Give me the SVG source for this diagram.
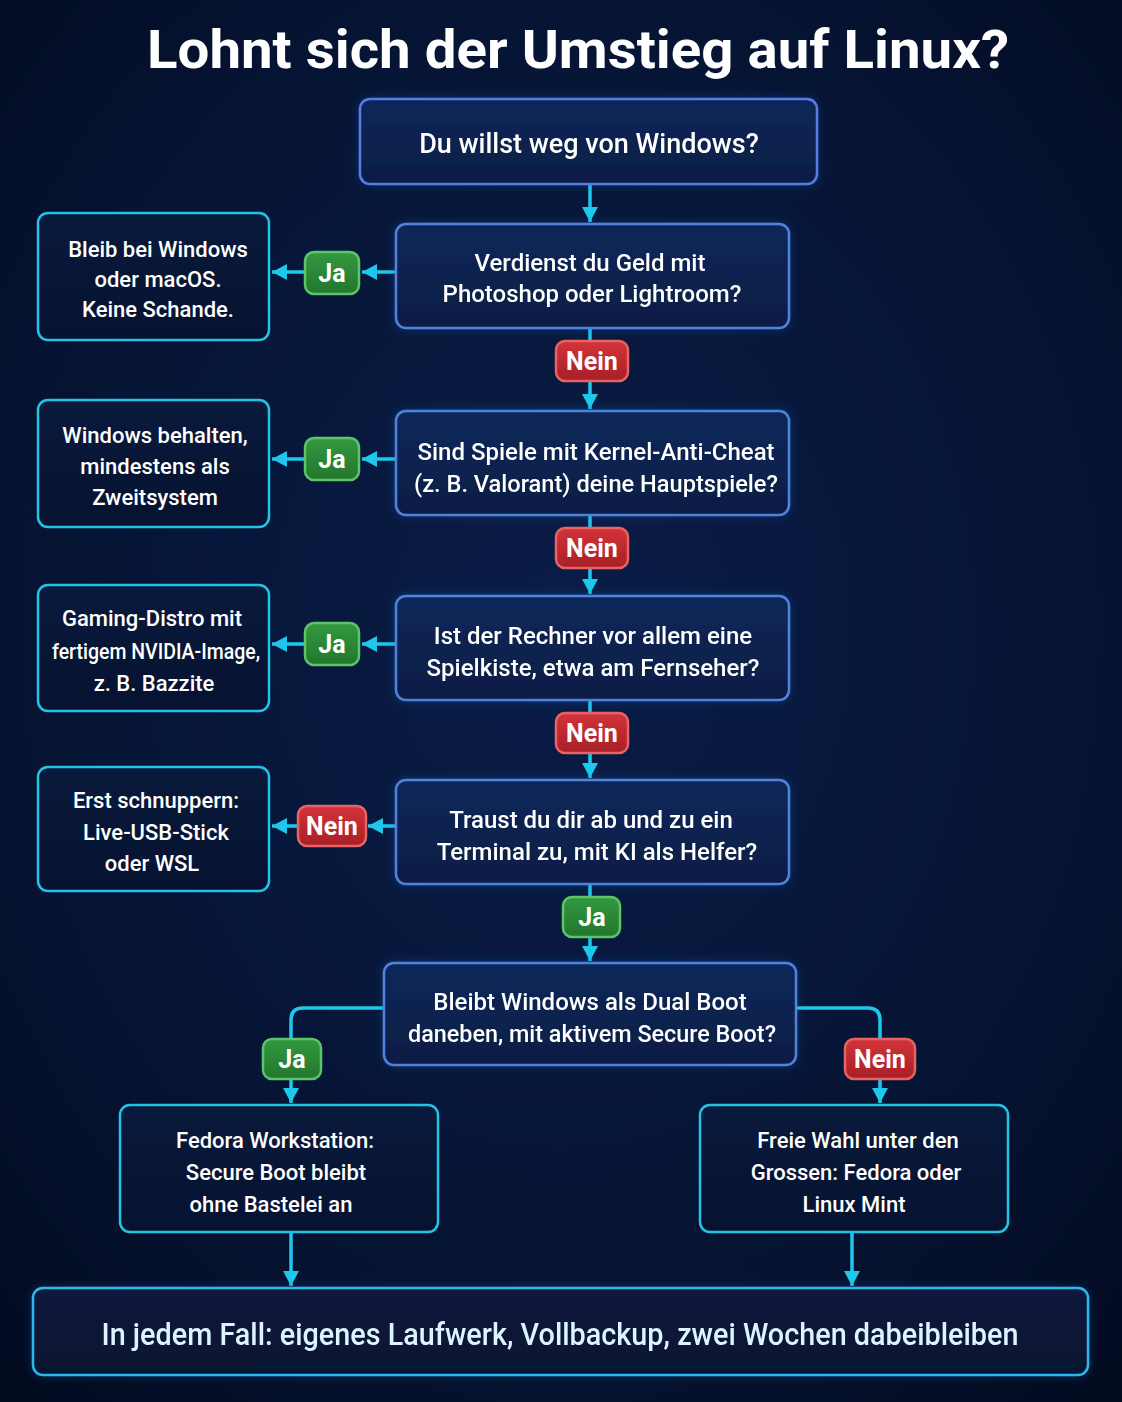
<svg xmlns="http://www.w3.org/2000/svg" width="1122" height="1402" viewBox="0 0 1122 1402">
  <defs>
    <radialGradient id="bg" cx="0.5" cy="0.45" r="0.75">
      <stop offset="0" stop-color="#0a1d48"/>
      <stop offset="0.6" stop-color="#061434"/>
      <stop offset="1" stop-color="#020a1e"/>
    </radialGradient>
    <linearGradient id="qfill" x1="0" y1="0" x2="0" y2="1">
      <stop offset="0" stop-color="#10285a"/>
      <stop offset="1" stop-color="#0b1d44"/>
    </linearGradient>
    <linearGradient id="lfill" x1="0" y1="0" x2="0" y2="1">
      <stop offset="0" stop-color="#0a1a3c"/>
      <stop offset="1" stop-color="#061230"/>
    </linearGradient>
    <linearGradient id="gfill" x1="0" y1="0" x2="0" y2="1">
      <stop offset="0" stop-color="#34983f"/>
      <stop offset="1" stop-color="#22772e"/>
    </linearGradient>
    <linearGradient id="rfill" x1="0" y1="0" x2="0" y2="1">
      <stop offset="0" stop-color="#d2343a"/>
      <stop offset="1" stop-color="#a81f26"/>
    </linearGradient>
    <filter id="glow" x="-10%" y="-20%" width="120%" height="140%">
      <feGaussianBlur in="SourceAlpha" stdDeviation="4" result="b"/>
      <feFlood flood-color="#1e6fd0" flood-opacity="0.35"/>
      <feComposite in2="b" operator="in"/>
      <feMerge><feMergeNode/><feMergeNode in="SourceGraphic"/></feMerge>
    </filter>
    <marker id="ah" markerUnits="userSpaceOnUse" markerWidth="20" markerHeight="20" viewBox="0 0 20 20" refX="18" refY="10" orient="auto">
      <path d="M3,2 L18,10 L3,18 Z" fill="#1ec8ec"/>
    </marker>
  </defs>
  <style>
    .q { fill: url(#qfill); stroke: #4f82dc; stroke-width: 2.5; }
    .l { fill: url(#lfill); stroke: #22c4e6; stroke-width: 2.5; }
    .t { font-family: Roboto, "Liberation Sans", sans-serif; font-weight: 500; fill: #ffffff; text-anchor: middle; }
    .qt { font-size: 24px; }
    .lt { font-size: 22px; }
    .c { fill: none; stroke: #1ec8ec; stroke-width: 3.5; }
    .ja { fill: url(#gfill); stroke: #5cc46a; stroke-width: 2.5; }
    .nein { fill: url(#rfill); stroke: #e86464; stroke-width: 2.5; }
    .pt { font-family: Roboto, "Liberation Sans", sans-serif; font-weight: 700; font-size: 25px; fill: #ffffff; text-anchor: middle; }
  </style>
  <rect x="0" y="0" width="1122" height="1402" fill="url(#bg)"/>
  <text x="578" y="68" class="t" style="font-size:54px;font-weight:700" textLength="862" lengthAdjust="spacingAndGlyphs">Lohnt sich der Umstieg auf Linux?</text>

  <g id="connectors">
    <line class="c" x1="590" y1="184" x2="590" y2="222" marker-end="url(#ah)"/>
    <line class="c" x1="396" y1="272" x2="362" y2="272" marker-end="url(#ah)"/>
    <line class="c" x1="305" y1="272" x2="272" y2="272" marker-end="url(#ah)"/>
    <line class="c" x1="590" y1="328" x2="590" y2="409" marker-end="url(#ah)"/>
    <line class="c" x1="396" y1="459" x2="362" y2="459" marker-end="url(#ah)"/>
    <line class="c" x1="305" y1="459" x2="272" y2="459" marker-end="url(#ah)"/>
    <line class="c" x1="590" y1="515" x2="590" y2="594" marker-end="url(#ah)"/>
    <line class="c" x1="396" y1="644" x2="362" y2="644" marker-end="url(#ah)"/>
    <line class="c" x1="305" y1="644" x2="272" y2="644" marker-end="url(#ah)"/>
    <line class="c" x1="590" y1="700" x2="590" y2="778" marker-end="url(#ah)"/>
    <line class="c" x1="396" y1="826" x2="368" y2="826" marker-end="url(#ah)"/>
    <line class="c" x1="298" y1="826" x2="272" y2="826" marker-end="url(#ah)"/>
    <line class="c" x1="590" y1="884" x2="590" y2="961" marker-end="url(#ah)"/>
    <path class="c" d="M384,1008 H303 Q291,1008 291,1020 V1103" marker-end="url(#ah)"/>
    <path class="c" d="M796,1008 H868 Q880,1008 880,1020 V1103" marker-end="url(#ah)"/>
    <line class="c" x1="291" y1="1232" x2="291" y2="1286" marker-end="url(#ah)"/>
    <line class="c" x1="852" y1="1232" x2="852" y2="1286" marker-end="url(#ah)"/>
  </g>

  <g id="labels">
    <rect class="ja" x="305" y="252" width="54" height="42" rx="9"/>
    <text class="pt" x="332" y="282">Ja</text>
    <rect class="nein" x="556" y="341" width="72" height="40" rx="9"/>
    <text class="pt" x="592" y="370">Nein</text>
    <rect class="ja" x="305" y="438" width="54" height="42" rx="9"/>
    <text class="pt" x="332" y="468">Ja</text>
    <rect class="nein" x="556" y="528" width="72" height="40" rx="9"/>
    <text class="pt" x="592" y="557">Nein</text>
    <rect class="ja" x="305" y="623" width="54" height="42" rx="9"/>
    <text class="pt" x="332" y="653">Ja</text>
    <rect class="nein" x="556" y="713" width="72" height="40" rx="9"/>
    <text class="pt" x="592" y="742">Nein</text>
    <rect class="nein" x="298" y="806" width="68" height="40" rx="9"/>
    <text class="pt" x="332" y="835">Nein</text>
    <rect class="ja" x="563" y="897" width="57" height="40" rx="9"/>
    <text class="pt" x="592" y="926">Ja</text>
    <rect class="ja" x="263" y="1039" width="58" height="40" rx="9"/>
    <text class="pt" x="292" y="1068">Ja</text>
    <rect class="nein" x="845" y="1039" width="70" height="40" rx="9"/>
    <text class="pt" x="880" y="1068">Nein</text>
  </g>

  <g id="n1" filter="url(#glow)">
    <rect class="q" x="360" y="99" width="457" height="85" rx="10" style="stroke:#5b7ae6"/>
    <text class="t" x="589" y="153" style="font-size:27px">Du willst weg von Windows?</text>
  </g>
  <g id="n2" filter="url(#glow)">
    <rect class="q" x="396" y="224" width="393" height="104" rx="10"/>
    <text class="t qt" x="590" y="271">Verdienst du Geld mit</text>
    <text class="t qt" x="592" y="302">Photoshop oder Lightroom?</text>
  </g>
  <g id="leaf1">
    <rect class="l" x="38" y="213" width="231" height="127" rx="10"/>
    <text class="t lt" x="158" y="257">Bleib bei Windows</text>
    <text class="t lt" x="158" y="287">oder macOS.</text>
    <text class="t lt" x="158" y="317">Keine Schande.</text>
  </g>
  <g id="n3" filter="url(#glow)">
    <rect class="q" x="396" y="411" width="393" height="104" rx="10"/>
    <text class="t qt" x="596" y="460">Sind Spiele mit Kernel-Anti-Cheat</text>
    <text class="t qt" x="596" y="492" textLength="364" lengthAdjust="spacingAndGlyphs">(z. B. Valorant) deine Hauptspiele?</text>
  </g>
  <g id="leaf2">
    <rect class="l" x="38" y="400" width="231" height="127" rx="10"/>
    <text class="t lt" x="155" y="443">Windows behalten,</text>
    <text class="t lt" x="155" y="474">mindestens als</text>
    <text class="t lt" x="155" y="505">Zweitsystem</text>
  </g>
  <g id="n4" filter="url(#glow)">
    <rect class="q" x="396" y="596" width="393" height="104" rx="10"/>
    <text class="t qt" x="593" y="644">Ist der Rechner vor allem eine</text>
    <text class="t qt" x="593" y="676">Spielkiste, etwa am Fernseher?</text>
  </g>
  <g id="leaf3">
    <rect class="l" x="38" y="585" width="231" height="126" rx="10"/>
    <text class="t lt" x="152" y="626">Gaming-Distro mit</text>
    <text class="t lt" x="156" y="659" textLength="208" lengthAdjust="spacingAndGlyphs">fertigem NVIDIA-Image,</text>
    <text class="t lt" x="154" y="691">z. B. Bazzite</text>
  </g>
  <g id="n5" filter="url(#glow)">
    <rect class="q" x="396" y="780" width="393" height="104" rx="10"/>
    <text class="t qt" x="591" y="828">Traust du dir ab und zu ein</text>
    <text class="t qt" x="597" y="860">Terminal zu, mit KI als Helfer?</text>
  </g>
  <g id="leaf4">
    <rect class="l" x="38" y="767" width="231" height="124" rx="10"/>
    <text class="t lt" x="156" y="808">Erst schnuppern:</text>
    <text class="t lt" x="156" y="840">Live-USB-Stick</text>
    <text class="t lt" x="152" y="871">oder WSL</text>
  </g>
  <g id="n6" filter="url(#glow)">
    <rect class="q" x="384" y="963" width="412" height="102" rx="10"/>
    <text class="t qt" x="590" y="1010">Bleibt Windows als Dual Boot</text>
    <text class="t qt" x="592" y="1042" textLength="368" lengthAdjust="spacingAndGlyphs">daneben, mit aktivem Secure Boot?</text>
  </g>
  <g id="leaf5">
    <rect class="l" x="120" y="1105" width="318" height="127" rx="10"/>
    <text class="t lt" x="275" y="1148">Fedora Workstation:</text>
    <text class="t lt" x="276" y="1180">Secure Boot bleibt</text>
    <text class="t lt" x="271" y="1212">ohne Bastelei an</text>
  </g>
  <g id="leaf6">
    <rect class="l" x="700" y="1105" width="308" height="127" rx="10"/>
    <text class="t lt" x="858" y="1148">Freie Wahl unter den</text>
    <text class="t lt" x="856" y="1180">Grossen: Fedora oder</text>
    <text class="t lt" x="854" y="1212">Linux Mint</text>
  </g>
  <g id="final" filter="url(#glow)">
    <rect class="l" x="33" y="1288" width="1055" height="87" rx="10" style="stroke:#2cb8ec"/>
    <text class="t" x="560" y="1345" style="font-size:31px;fill:#dcf4ff" textLength="917" lengthAdjust="spacingAndGlyphs">In jedem Fall: eigenes Laufwerk, Vollbackup, zwei Wochen dabeibleiben</text>
  </g>
</svg>
